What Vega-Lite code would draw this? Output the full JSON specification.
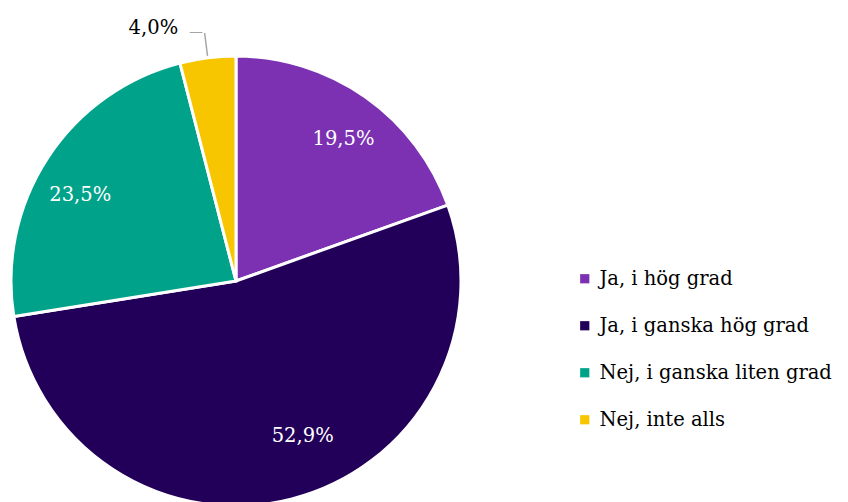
{
  "$schema": "https://vega.github.io/schema/vega-lite/v6.json",
  "width": 848,
  "height": 502,
  "padding": 0,
  "autosize": {"type": "none"},
  "background": "white",
  "config": {"view": {"stroke": null}, "font": "DejaVu Serif"},
  "data": {
    "values": [
      {"cat": "Ja, i hög grad", "value": 19.5, "label": "19,5%", "order": 1},
      {"cat": "Ja, i ganska hög grad", "value": 52.9, "label": "52,9%", "order": 2},
      {"cat": "Nej, i ganska liten grad", "value": 23.5, "label": "23,5%", "order": 3},
      {"cat": "Nej, inte alls", "value": 4.0, "label": "4,0%", "order": 4}
    ]
  },
  "encoding": {
    "theta": {"field": "value", "type": "quantitative", "stack": true},
    "order": {"field": "order", "type": "quantitative"}
  },
  "layer": [
    {
      "mark": {"type": "arc", "x": 236, "y": 281, "outerRadius": 225, "stroke": "white", "strokeWidth": 3},
      "encoding": {
        "color": {
          "field": "cat",
          "type": "nominal",
          "sort": ["Ja, i hög grad", "Ja, i ganska hög grad", "Nej, i ganska liten grad", "Nej, inte alls"],
          "scale": {
            "domain": ["Ja, i hög grad", "Ja, i ganska hög grad", "Nej, i ganska liten grad", "Nej, inte alls"],
            "range": ["#7B31B2", "#22005A", "#00A38A", "#F7C600"]
          },
          "legend": {
            "title": null,
            "orient": "none",
            "legendX": 575,
            "legendY": 269,
            "symbolType": "square",
            "symbolSize": 85,
            "symbolStrokeWidth": 0,
            "labelFont": "DejaVu Serif",
            "labelFontSize": 19.5,
            "labelColor": "black",
            "labelOffset": 5,
            "rowPadding": 26,
            "labelLimit": 400
          }
        }
      }
    },
    {
      "mark": {"type": "arc", "x": 236, "y": 281, "innerRadius": 227, "outerRadius": 250, "padAngle": 0.5, "fill": "transparent", "stroke": "#A6A6A6", "strokeWidth": 1.5},
      "encoding": {
        "opacity": {"condition": {"test": "datum.cat === 'Nej, inte alls'", "value": 1}, "value": 0}
      }
    },
    {
      "mark": {"type": "text", "x": 236, "y": 281, "radius": 252, "thetaOffset": -0.034, "fontSize": 14, "font": "DejaVu Sans", "fill": "#A6A6A6", "text": "—"},
      "encoding": {
        "opacity": {"condition": {"test": "datum.cat === 'Nej, inte alls'", "value": 1}, "value": 0}
      }
    },
    {
      "mark": {"type": "text", "x": 236, "y": 281, "radius": 178, "thetaOffset": 0.035, "fontSize": 19.5, "font": "DejaVu Serif", "fill": "white"},
      "encoding": {
        "text": {"field": "label"},
        "opacity": {"condition": {"test": "datum.cat === 'Ja, i hög grad'", "value": 1}, "value": 0}
      }
    },
    {
      "mark": {"type": "text", "x": 236, "y": 281, "radius": 169, "thetaOffset": -0.154, "fontSize": 19.5, "font": "DejaVu Serif", "fill": "white"},
      "encoding": {
        "text": {"field": "label"},
        "opacity": {"condition": {"test": "datum.cat === 'Ja, i ganska hög grad'", "value": 1}, "value": 0}
      }
    },
    {
      "mark": {"type": "text", "x": 236, "y": 281, "radius": 178, "thetaOffset": -0.075, "fontSize": 19.5, "font": "DejaVu Serif", "fill": "white"},
      "encoding": {
        "text": {"field": "label"},
        "opacity": {"condition": {"test": "datum.cat === 'Nej, i ganska liten grad'", "value": 1}, "value": 0}
      }
    },
    {
      "mark": {"type": "text", "x": 236, "y": 281, "radius": 266, "thetaOffset": -0.19, "fontSize": 19.5, "font": "DejaVu Serif", "fill": "black"},
      "encoding": {
        "text": {"field": "label"},
        "opacity": {"condition": {"test": "datum.cat === 'Nej, inte alls'", "value": 1}, "value": 0}
      }
    }
  ]
}
